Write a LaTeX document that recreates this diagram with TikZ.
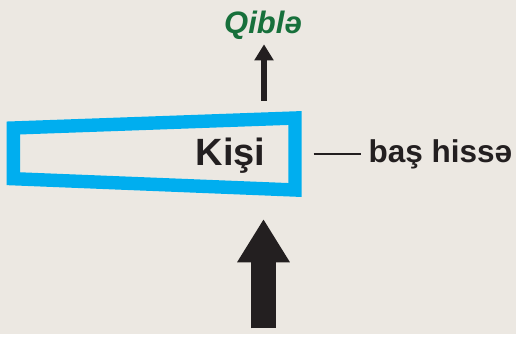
\documentclass[tikz,border=0pt]{standalone}
\usepackage{fontspec}
\setmainfont{Liberation Sans}
\usetikzlibrary{arrows.meta}
\definecolor{bgbeige}{HTML}{ECE8E2}
\definecolor{framecyan}{HTML}{00AEEF}
\definecolor{qiblegreen}{HTML}{17703B}
\definecolor{inkblack}{HTML}{231F20}

\begin{document}
\begin{tikzpicture}[x=1pt,y=-1pt,
    lbl/.style={inner sep=0pt,anchor=base,text=inkblack}]
      \fill[bgbeige](0,0)rectangle(516,334);
      \coordinate(A)at(13.3,128);\coordinate(B)at(295,118);\coordinate(C)at(295,190);\coordinate(D)at(13.3,178.7);
      \coordinate(S)at(264,100.7);\coordinate(T)at(264,44.3);
      \coordinate(U)at(263.5,328.3);\coordinate(V)at(263.5,219);
      \coordinate(L)at(313.7,154);\coordinate(M)at(361,154);
      \draw[framecyan,line width=13.4pt,line join=miter](A)--(B)--(C)--(D)--cycle;
      \node[lbl,font=\fontsize{38}{38}\selectfont\bfseries](kisi)at(230.5,165.7){Kişi};
      \node[lbl,font=\fontsize{31.5}{31.5}\selectfont\bfseries](bashisse)at(440.5,162.7){baş hissə};
      \node[lbl,text=qiblegreen,font=\fontsize{31}{31}\selectfont\bfseries\itshape](qible)at(263,33.3){Qiblə};
      \draw[inkblack,line width=2.5pt](L)--(M);
      \draw[inkblack,line width=5.3pt,-{Triangle[width=18.3pt,length=16pt]}](S)--(T);
      \draw[inkblack,line width=25.3pt,-{Triangle[width=49.7pt,length=43.3pt]}](U)--(V);
    \end{tikzpicture}
\end{document}
